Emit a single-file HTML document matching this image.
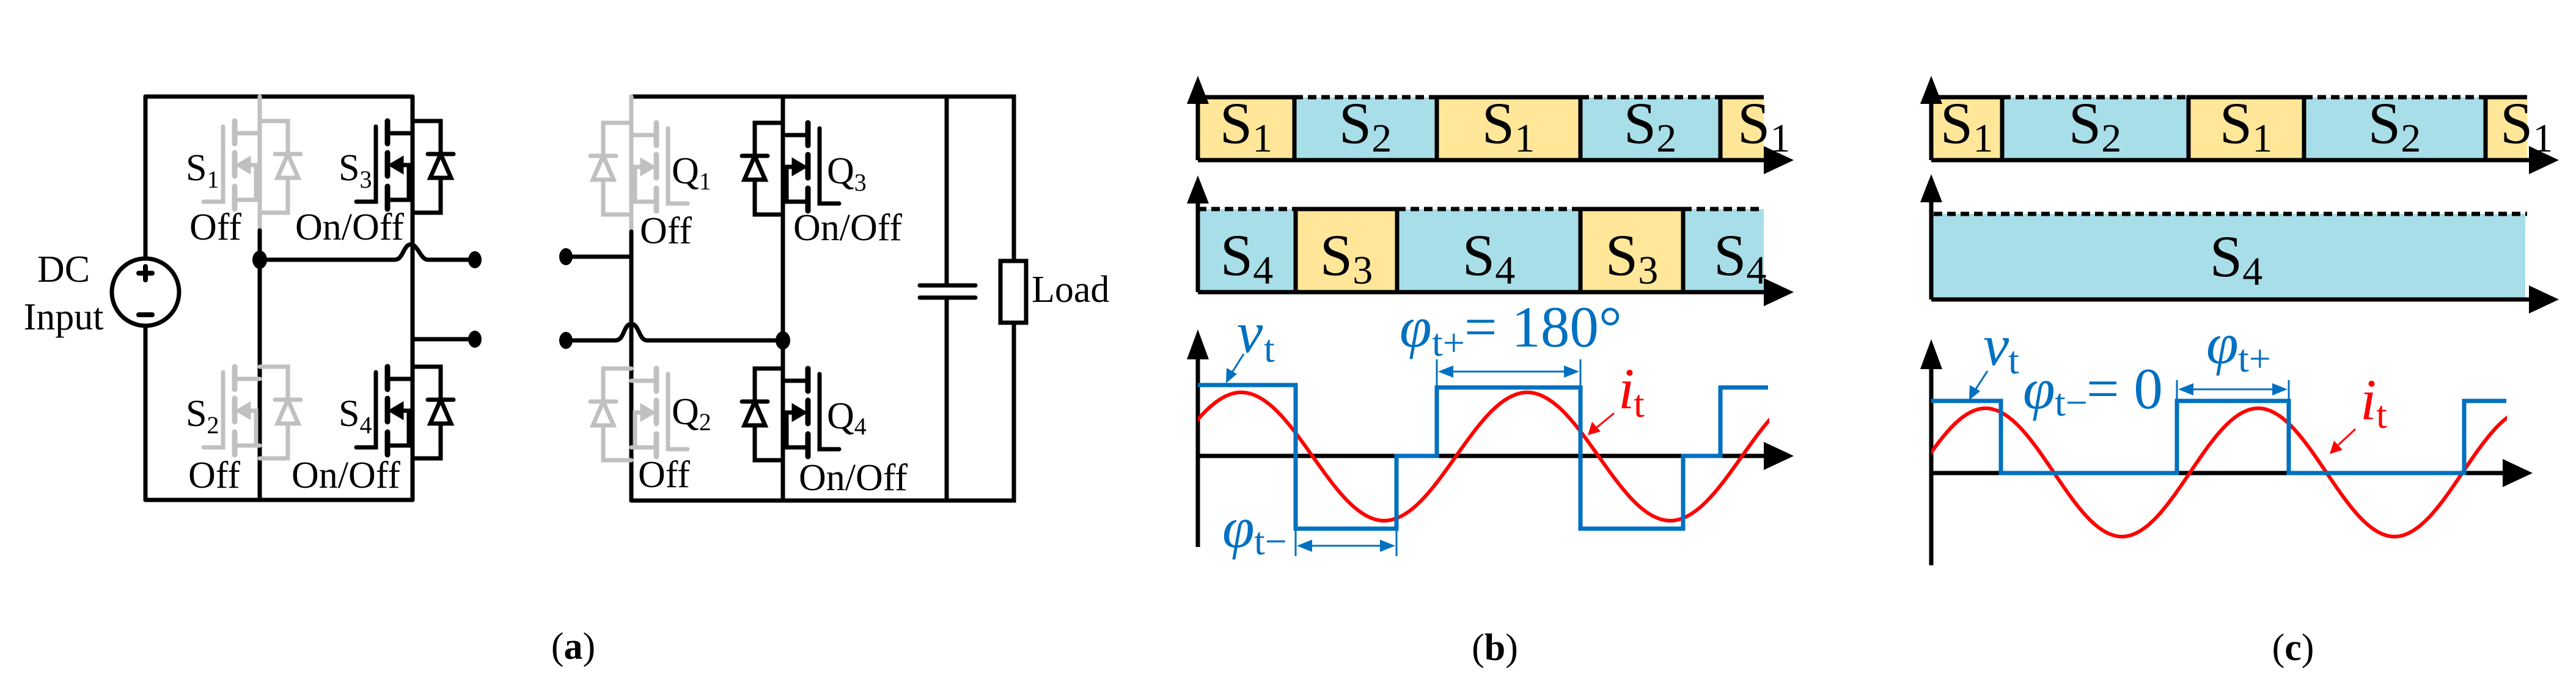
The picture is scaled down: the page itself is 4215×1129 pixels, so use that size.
<!DOCTYPE html>
<html><head><meta charset="utf-8"><style>
html,body{margin:0;padding:0;background:#fff}
svg{display:block}
text{font-family:"Liberation Serif",serif}
</style></head><body>
<svg width="4215" height="1129" viewBox="0 0 4215 1129" xmlns="http://www.w3.org/2000/svg">
<defs>
<g id="tr" stroke="currentColor" stroke-width="7" fill="none" stroke-linecap="round">
  <path d="M0,0H46V150H0"/>
  <line x1="25" y1="54" x2="67" y2="54"/>
  <polygon points="46,54 29,93 63,93" fill="#fff"/>
  <line x1="-41" y1="0" x2="-41" y2="37" stroke-width="9"/>
  <line x1="-41" y1="52" x2="-41" y2="90" stroke-width="9"/>
  <line x1="-41" y1="107" x2="-41" y2="144" stroke-width="9"/>
  <path d="M-60,9V132H-92"/>
  <line x1="-41" y1="20" x2="0" y2="20"/>
  <path d="M-20,72H-6V129"/>
  <polygon points="-38,72 -16,59 -16,85" fill="currentColor" stroke-width="3"/>
  <line x1="-41" y1="129" x2="0" y2="129"/>
</g>
</defs>

<!-- ========== (a) circuit ========== -->
<g stroke="#000" stroke-width="7" fill="none" stroke-linecap="round">
  <path d="M238,158H675"/>
  <path d="M238,818H675"/>
  <line x1="238" y1="158" x2="238" y2="423"/>
  <line x1="238" y1="533" x2="238" y2="818"/>
  <circle cx="238" cy="478" r="55"/>
  <path d="M238,436V458M227,447H249" stroke-width="8"/>
  <path d="M227,515H249" stroke-width="8"/>
  <line x1="425" y1="158" x2="425" y2="377" stroke="#c0c0c0"/>
  <line x1="425" y1="377" x2="425" y2="818"/>
  <line x1="675" y1="158" x2="675" y2="818"/>
  <path d="M425,425H646C660,425 660,400 672,400C684,400 688,425 700,425H777"/>
  <path d="M675,555H777"/>
  <path d="M1033,158H1659V819H1033"/>
  <line x1="1033" y1="158" x2="1033" y2="379" stroke="#c0c0c0"/>
  <line x1="1033" y1="379" x2="1033" y2="819"/>
  <line x1="1281" y1="158" x2="1281" y2="819"/>
  <path d="M926,420H1033"/>
  <path d="M926,557H1007C1022,557 1020,530 1033,530C1046,530 1045,557 1059,557H1281"/>
  <line x1="1549" y1="158" x2="1549" y2="467"/>
  <line x1="1549" y1="487" x2="1549" y2="819"/>
  <line x1="1505" y1="467" x2="1596" y2="467"/>
  <line x1="1505" y1="487" x2="1596" y2="487"/>
  <rect x="1637" y="427" width="42" height="101" fill="#fff"/>
</g>
<g fill="#000">
  <ellipse cx="425" cy="425" rx="12" ry="15"/>
  <ellipse cx="777" cy="425" rx="11" ry="14"/>
  <ellipse cx="777" cy="555" rx="11" ry="14"/>
  <ellipse cx="926" cy="420" rx="11" ry="14"/>
  <ellipse cx="926" cy="557" rx="11" ry="14"/>
  <ellipse cx="1281" cy="557" rx="12" ry="15"/>
</g>
<use href="#tr" color="#c0c0c0" transform="translate(425,198)"/>
<use href="#tr" color="#c0c0c0" transform="translate(425,600)"/>
<use href="#tr" color="#000" transform="translate(675,198)"/>
<use href="#tr" color="#000" transform="translate(675,600)"/>
<use href="#tr" color="#c0c0c0" transform="translate(1033,201) scale(-1,1)"/>
<use href="#tr" color="#c0c0c0" transform="translate(1033,603) scale(-1,1)"/>
<use href="#tr" color="#000" transform="translate(1281,201) scale(-1,1)"/>
<use href="#tr" color="#000" transform="translate(1281,603) scale(-1,1)"/>

<g font-size="62" fill="#000">
  <text x="104" y="461" text-anchor="middle">DC</text>
  <text x="104" y="539" text-anchor="middle">Input</text>
  <text x="1688" y="494">Load</text>
  <text x="304" y="295">S<tspan font-size="40" dy="12">1</tspan></text>
  <text x="554" y="295">S<tspan font-size="40" dy="12">3</tspan></text>
  <text x="304" y="697">S<tspan font-size="40" dy="12">2</tspan></text>
  <text x="554" y="697">S<tspan font-size="40" dy="12">4</tspan></text>
  <text x="310" y="392">Off</text>
  <text x="483" y="392">On/Off</text>
  <text x="308" y="798">Off</text>
  <text x="477" y="798">On/Off</text>
  <text x="1099" y="300">Q<tspan font-size="40" dy="10">1</tspan></text>
  <text x="1353" y="300">Q<tspan font-size="40" dy="12">3</tspan></text>
  <text x="1099" y="694">Q<tspan font-size="40" dy="10">2</tspan></text>
  <text x="1353" y="701">Q<tspan font-size="40" dy="10">4</tspan></text>
  <text x="1047" y="398">Off</text>
  <text x="1298" y="393">On/Off</text>
  <text x="1044" y="797">Off</text>
  <text x="1307" y="802">On/Off</text>
  <text x="938" y="1078" text-anchor="middle">(<tspan font-weight="bold">a</tspan>)</text>
  <text x="2446" y="1080" text-anchor="middle">(<tspan font-weight="bold">b</tspan>)</text>
  <text x="3752" y="1080" text-anchor="middle">(<tspan font-weight="bold">c</tspan>)</text>
</g>

<!-- ========== (b) ========== -->
<g>
  <rect x="1960" y="159" width="158" height="103" fill="#FFE699"/>
  <rect x="2118" y="159" width="233" height="103" fill="#A8DEE8"/>
  <rect x="2351" y="159" width="235" height="103" fill="#FFE699"/>
  <rect x="2586" y="159" width="229" height="103" fill="#A8DEE8"/>
  <rect x="2815" y="159" width="71" height="103" fill="#FFE699"/>
  <rect x="1960" y="342" width="160" height="136" fill="#A8DEE8"/>
  <rect x="2120" y="342" width="166" height="136" fill="#FFE699"/>
  <rect x="2286" y="342" width="300" height="136" fill="#A8DEE8"/>
  <rect x="2586" y="342" width="168" height="136" fill="#FFE699"/>
  <rect x="2754" y="342" width="132" height="136" fill="#A8DEE8"/>
  <g stroke="#000" stroke-width="7" fill="none">
    <path d="M2118,159H2351M2586,159H2815" stroke-dasharray="14,8"/>
    <path d="M1960,342H2120M2286,342H2586M2754,342H2886" stroke-dasharray="14,8"/>
    <path d="M1960,262V159H2118V262"/>
    <path d="M2351,262V159H2586V262"/>
    <path d="M2815,262V159H2886"/>
    <path d="M2120,478V342H2286V478"/>
    <path d="M2586,478V342H2754V478"/>
    <path d="M1960,262V150M1960,262H2890"/>
    <path d="M1960,478V310M1960,478H2890"/>
    <path d="M1960,895V570M1960,746H2890"/>
  </g>
  <g fill="#000">
    <polygon points="1960,124 1942,170 1978,170"/>
    <polygon points="2935,262 2886,239 2886,285"/>
    <polygon points="1960,287 1942,333 1978,333"/>
    <polygon points="2935,478 2886,455 2886,501"/>
    <polygon points="1960,539 1942,588 1978,588"/>
    <polygon points="2935,746 2886,723 2886,769"/>
  </g>
  <g font-size="96" text-anchor="middle" fill="#000">
    <text x="2039" y="234">S<tspan font-size="66" dy="14">1</tspan></text>
    <text x="2234" y="234">S<tspan font-size="66" dy="14">2</tspan></text>
    <text x="2468" y="234">S<tspan font-size="66" dy="14">1</tspan></text>
    <text x="2700" y="234">S<tspan font-size="66" dy="14">2</tspan></text>
    <text x="2040" y="450">S<tspan font-size="66" dy="14">4</tspan></text>
    <text x="2203" y="450">S<tspan font-size="66" dy="14">3</tspan></text>
    <text x="2436" y="450">S<tspan font-size="66" dy="14">4</tspan></text>
    <text x="2670" y="450">S<tspan font-size="66" dy="14">3</tspan></text>
  </g>
  <g font-size="96" fill="#000">
    <text x="2843" y="234">S<tspan font-size="66" dy="14">1</tspan></text>
    <text x="2804" y="450">S<tspan font-size="66" dy="14">4</tspan></text>
  </g>
  <clipPath id="cb"><rect x="1960" y="500" width="935" height="420"/></clipPath>
  <path clip-path="url(#cb)" d="M1797,852C1882,852 1946,642 2031,642C2116,642 2180,852 2265,852C2350,852 2414,642 2499,642C2584,642 2648,852 2733,852C2818,852 2882,642 2967,642" stroke="#FF0000" stroke-width="6" fill="none"/>
  <path d="M1960,630H2120V865H2285V746H2351V634H2586V865H2754V746H2815V634H2893" stroke="#0070C0" stroke-width="7" fill="none"/>
  <g stroke="#0070C0" stroke-width="3" fill="none">
    <path d="M2351,588V634M2586,588V634M2370,608H2567"/>
    <path d="M2120,867V910M2285,867V910M2140,893H2265"/>
    <path d="M2035,579L2015,611"/>
  </g>
  <g fill="#0070C0">
    <polygon points="2353,608 2378,598 2378,618"/>
    <polygon points="2584,608 2559,598 2559,618"/>
    <polygon points="2122,893 2147,883 2147,903"/>
    <polygon points="2283,893 2258,883 2258,903"/>
    <polygon points="2006,627 2007,602 2024,612"/>
  </g>
  <path d="M2641,676L2612,700" stroke="#FF0000" stroke-width="3"/>
  <polygon points="2598,712 2605,690 2619,706" fill="#FF0000"/>
  <g fill="#0070C0" font-size="95">
    <text x="2024" y="576" font-style="italic">v</text>
    <text x="2068" y="592" font-size="64">t</text>
    <text x="2290" y="567" font-style="italic">φ</text>
    <text x="2343" y="582" font-size="64">t+</text>
    <text x="2396" y="567">= 180°</text>
    <text x="2000" y="895" font-style="italic">φ</text>
    <text x="2052" y="907" font-size="64">t−</text>
  </g>
  <g fill="#FF0000" font-size="95">
    <text x="2648" y="668" font-style="italic">i</text>
    <text x="2673" y="682" font-size="64">t</text>
  </g>
</g>

<!-- ========== (c) ========== -->
<g>
  <rect x="3160" y="159" width="116" height="103" fill="#FFE699"/>
  <rect x="3276" y="159" width="305" height="103" fill="#A8DEE8"/>
  <rect x="3581" y="159" width="189" height="103" fill="#FFE699"/>
  <rect x="3770" y="159" width="297" height="103" fill="#A8DEE8"/>
  <rect x="4067" y="159" width="68" height="103" fill="#FFE699"/>
  <rect x="3160" y="350" width="972" height="140" fill="#A8DEE8"/>
  <g stroke="#000" stroke-width="7" fill="none">
    <path d="M3276,159H3581M3770,159H4067" stroke-dasharray="14,8"/>
    <path d="M3164,350H4135" stroke-dasharray="14,8"/>
    <path d="M3160,262V159H3276V262"/>
    <path d="M3581,262V159H3770V262"/>
    <path d="M4067,262V159H4135"/>
    <path d="M3160,262V150M3160,262H4140"/>
    <path d="M3160,490V310M3160,490H4140"/>
    <path d="M3160,925V590M3160,774H4095"/>
  </g>
  <g fill="#000">
    <polygon points="3160,124 3142,170 3178,170"/>
    <polygon points="4187,262 4138,239 4138,285"/>
    <polygon points="3160,285 3142,331 3178,331"/>
    <polygon points="4187,490 4138,467 4138,513"/>
    <polygon points="3160,555 3142,604 3178,604"/>
    <polygon points="4144,774 4095,751 4095,797"/>
  </g>
  <g font-size="96" text-anchor="middle" fill="#000">
    <text x="3218" y="234">S<tspan font-size="66" dy="14">1</tspan></text>
    <text x="3428" y="234">S<tspan font-size="66" dy="14">2</tspan></text>
    <text x="3675" y="234">S<tspan font-size="66" dy="14">1</tspan></text>
    <text x="3918" y="234">S<tspan font-size="66" dy="14">2</tspan></text>
    <text x="3659" y="452">S<tspan font-size="66" dy="14">4</tspan></text>
  </g>
  <text x="4091" y="234" font-size="96" fill="#000">S<tspan font-size="66" dy="14">1</tspan></text>
  <clipPath id="cc"><rect x="3160" y="520" width="942" height="420"/></clipPath>
  <path clip-path="url(#cc)" d="M3026,878C3107,878 3168,668 3249,668C3330,668 3391,878 3472,878C3553,878 3614,668 3695,668C3776,668 3837,878 3918,878C3999,878 4060,668 4141,668" stroke="#FF0000" stroke-width="6" fill="none"/>
  <path d="M3160,656H3274V774H3562V656H3745V774H4032V656H4101" stroke="#0070C0" stroke-width="7" fill="none"/>
  <g stroke="#0070C0" stroke-width="3" fill="none">
    <path d="M3562,622V659M3745,622V659M3580,637H3727"/>
    <path d="M3252,607L3232,638"/>
  </g>
  <g fill="#0070C0">
    <polygon points="3564,637 3589,627 3589,647"/>
    <polygon points="3743,637 3718,627 3718,647"/>
    <polygon points="3222,655 3223,630 3240,640"/>
  </g>
  <path d="M3854,702L3826,728" stroke="#FF0000" stroke-width="3"/>
  <polygon points="3812,743 3819,721 3833,736" fill="#FF0000"/>
  <g fill="#0070C0" font-size="95">
    <text x="3245" y="597" font-style="italic">v</text>
    <text x="3286" y="611" font-size="64">t</text>
    <text x="3310" y="668" font-style="italic">φ</text>
    <text x="3362" y="680" font-size="64">t−</text>
    <text x="3414" y="668">= 0</text>
    <text x="3610" y="594" font-style="italic">φ</text>
    <text x="3662" y="608" font-size="64">t+</text>
  </g>
  <g fill="#FF0000" font-size="95">
    <text x="3862" y="686" font-style="italic">i</text>
    <text x="3888" y="700" font-size="64">t</text>
  </g>
</g>
</svg>
</body></html>
